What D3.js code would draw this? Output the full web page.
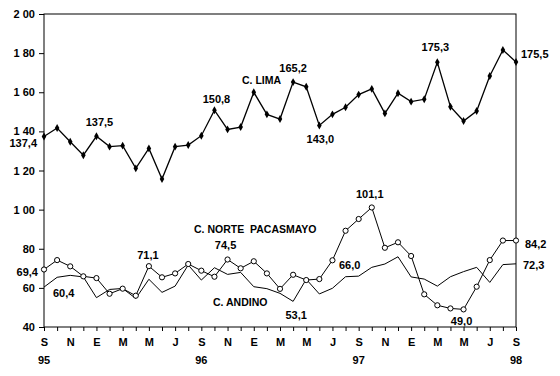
<!DOCTYPE html>
<html>
<head>
<meta charset="utf-8">
<script src="https://cdn.jsdelivr.net/npm/d3@7"></script>
<style>
  body { margin: 0; background: #fff; }
  svg text { font-family: "Liberation Sans", Arial, sans-serif; font-weight: bold; fill: #000; }
</style>
</head>
<body>
<svg id="chart" width="560" height="376"></svg>
<script>
// months Sep 95 .. Sep 98 (Spanish initials)
const months = ['S','O','N','D','E','F','M','A','M','J','J','A',
                'S','O','N','D','E','F','M','A','M','J','J','A',
                'S','O','N','D','E','F','M','A','M','J','J','A','S']
const years = ['95', '96', '97', '98']
const yearIndex = [0, 12, 24, 36]

const yTicks = [40, 60, 80, 100, 120, 140, 160, 180, 200]
const yTickLabels = ['40', '60', '80', '1 00', '1 20', '1 40', '1 60', '1 80', '2 00']

const lima = [137.4, 141.7, 134.7, 127.8, 137.5, 132.2, 132.7, 121.1, 131.3, 115.6, 132.2, 133.0,
  137.8, 150.8, 141.0, 142.2, 160.0, 148.7, 146.3, 165.2, 162.8, 143.0, 148.7, 152.3,
  158.8, 161.7, 149.2, 159.5, 155.2, 156.4, 175.3, 152.6, 145.3, 150.4, 168.3, 181.6, 175.5]
const norte = [69.4, 74.2, 71.0, 65.9, 65.0, 57.0, 59.6, 56.0, 71.1, 65.4, 67.4, 72.2,
  68.8, 65.7, 74.5, 70.0, 73.6, 67.4, 59.5, 66.7, 64.0, 64.5, 74.1, 89.2,
  95.2, 101.1, 80.5, 83.3, 76.3, 56.7, 51.1, 49.5, 49.0, 60.6, 74.2, 84.2, 84.2]
const andino = [60.4, 65.4, 66.4, 65.6, 55.0, 59.2, 59.7, 54.6, 64.4, 57.7, 60.9, 71.7,
  64.0, 70.3, 66.9, 67.9, 60.6, 59.6, 57.2, 53.1, 64.4, 56.9, 59.8, 65.7,
  66.0, 70.5, 72.2, 75.9, 65.6, 64.5, 60.9, 65.7, 68.3, 70.5, 62.8, 71.9, 72.3]

// value labels: [series, index, text]
const valueLabels = [
  ['lima', 0, '137,4'], ['lima', 4, '137,5'], ['lima', 13, '150,8'], ['lima', 19, '165,2'],
  ['lima', 21, '143,0'], ['lima', 30, '175,3'], ['lima', 36, '175,5'],
  ['norte', 0, '69,4'], ['andino', 0, '60,4'], ['norte', 8, '71,1'], ['norte', 14, '74,5'],
  ['andino', 19, '53,1'], ['andino', 24, '66,0'], ['norte', 25, '101,1'], ['norte', 32, '49,0'],
  ['norte', 36, '84,2'], ['andino', 36, '72,3']
]
const seriesNames = ['C. LIMA', 'C. NORTE\u00a0 PACASMAYO', 'C. ANDINO']

const plot = { left: 44, right: 516, top: 14, bottom: 327 }

const svg = d3.select('#chart')
const x = d3.scaleLinear().domain([0, months.length - 1]).range([plot.left, plot.right])
const y = d3.scaleLinear().domain([40, 200]).range([plot.bottom, plot.top])

svg.append('rect')
  .attr('x', plot.left).attr('y', plot.top)
  .attr('width', plot.right - plot.left).attr('height', plot.bottom - plot.top)
  .attr('fill', 'none').attr('stroke', '#000')

const yAxis = svg.append('g')
  .attr('transform', `translate(${plot.left},0)`)
  .call(d3.axisLeft(y).tickValues(yTicks).tickSize(5).tickSizeOuter(0)
    .tickFormat((d, i) => yTickLabels[i]))
yAxis.select('.domain').remove()
yAxis.selectAll('text').attr('font-size', 11).attr('x', -9)

const xAxis = svg.append('g')
  .attr('transform', `translate(0,${plot.bottom})`)
  .call(d3.axisBottom(x).tickValues(d3.range(months.length)).tickSize(4).tickSizeOuter(0)
    .tickFormat(i => i % 2 === 0 ? months[i] : ''))
xAxis.select('.domain').remove()
xAxis.selectAll('text').attr('font-size', 11).attr('y', 11)

svg.append('g').selectAll('text').data(years).enter().append('text')
  .attr('x', (d, i) => x(yearIndex[i]))
  .attr('y', 364)
  .attr('text-anchor', 'middle')
  .attr('font-size', 11)
  .text(d => d)

const line = d3.line().x((d, i) => x(i)).y(d => y(d))

svg.append('path').datum(andino)
  .attr('d', line).attr('fill', 'none').attr('stroke', '#000').attr('stroke-width', 1)

svg.append('path').datum(norte)
  .attr('d', line).attr('fill', 'none').attr('stroke', '#000').attr('stroke-width', 1)
svg.append('g').selectAll('circle').data(norte).enter().append('circle')
  .attr('cx', (d, i) => x(i)).attr('cy', d => y(d)).attr('r', 2.6)
  .attr('fill', '#fff').attr('stroke', '#000').attr('stroke-width', 1)

svg.append('path').datum(lima)
  .attr('d', line).attr('fill', 'none').attr('stroke', '#000').attr('stroke-width', 1.3)
svg.append('g').selectAll('path').data(lima).enter().append('path')
  .attr('d', d3.symbol(d3.symbolDiamond, 18))
  .attr('transform', (d, i) => `translate(${x(i)},${y(d)})`)
  .attr('fill', '#000')

const seriesData = { lima, norte, andino }
// offsets for each value label, same order as valueLabels
const labelOffsets = [
  [-7, 11, 'end'], [3, -10, 'middle'], [2, -7, 'middle'], [0, -10, 'middle'],
  [1, 17, 'middle'], [-2, -11, 'middle'], [5, -4, 'start'],
  [-6, 7, 'end'], [9, 10, 'start'], [-1, -7, 'middle'], [-2, -11, 'middle'],
  [3, 18, 'middle'], [-9, -7, 'middle'], [-2, -9, 'middle'], [-2, 16, 'middle'],
  [9, 7, 'start'], [7, 5, 'start']
]
svg.append('g').selectAll('text').data(valueLabels).enter().append('text')
  .attr('x', (d, i) => x(d[1]) + labelOffsets[i][0])
  .attr('y', (d, i) => y(seriesData[d[0]][d[1]]) + labelOffsets[i][1])
  .attr('text-anchor', (d, i) => labelOffsets[i][2])
  .attr('font-size', 11)
  .text(d => d[2])

const namePos = [[242, 84], [194, 233], [213, 306]]
svg.append('g').selectAll('text').data(seriesNames).enter().append('text')
  .attr('x', (d, i) => namePos[i][0])
  .attr('y', (d, i) => namePos[i][1])
  .attr('font-size', 10.5)
  .text(d => d)
</script>
</body>
</html>
